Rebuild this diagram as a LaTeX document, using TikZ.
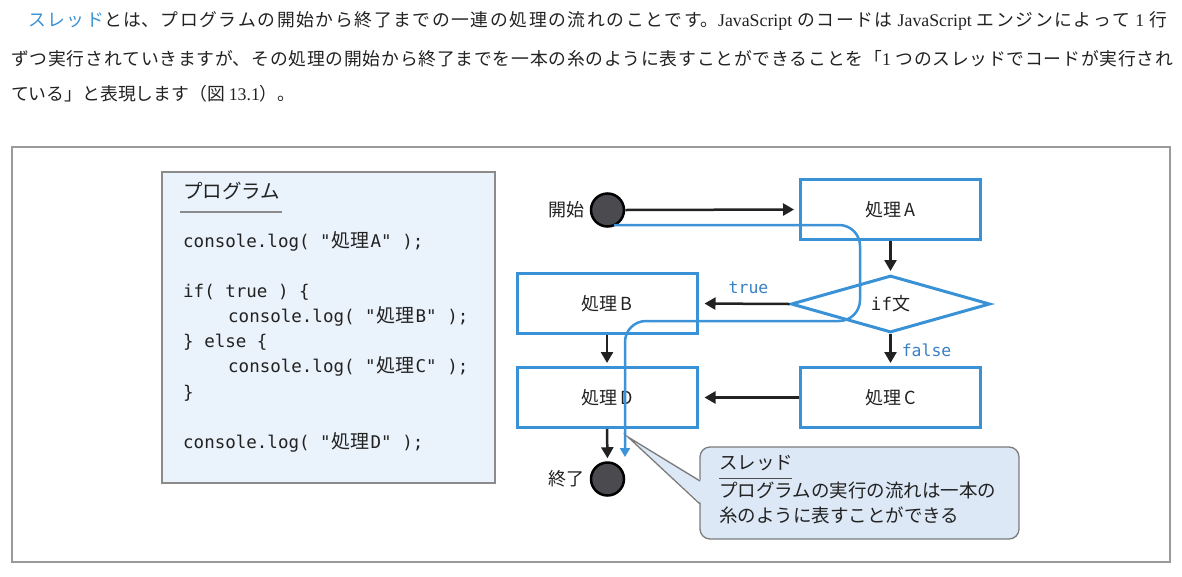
\documentclass[tikz,border=0pt]{standalone}
\usepackage{fontspec}
\setmainfont{Noto Sans CJK JP}
\newfontfamily\jp{Noto Sans CJK JP}
\newfontfamily\lat{Liberation Serif}
\newfontfamily\mono{DejaVu Sans Mono}
\usetikzlibrary{arrows.meta,shapes.geometric}
\XeTeXlinebreaklocale "ja"
\XeTeXlinebreakskip=0pt plus 3pt
\definecolor{boxblue}{HTML}{3A92D6}
\definecolor{thread}{HTML}{3C93D8}
\definecolor{lbl}{HTML}{3A80C4}
\definecolor{progfill}{HTML}{EAF2FB}
\definecolor{callfill}{HTML}{DCE8F6}
\definecolor{framegray}{HTML}{9A9A9A}
\definecolor{dot}{HTML}{4B4B4F}
\definecolor{txt}{HTML}{222222}
\newcommand\cj[1]{{\jp\fontsize{19}{20}\selectfont\makebox[40pt][c]{#1}}}
\newcommand\jline[2]{\parbox{#1}{\parfillskip=0pt\parindent=0pt\leftskip=0pt\rightskip=0pt #2\par}}
\tikzset{
  para/.style={anchor=mid west, inner sep=0pt, text=txt, font=\jp\fontsize{17.8}{20}\selectfont},
  code/.style={anchor=mid west, inner sep=0pt, text=txt, font=\mono\fontsize{17.5}{20}\selectfont},
  procbox/.style={draw=boxblue, line width=3pt, minimum width=180pt, minimum height=60pt, inner sep=0pt, fill=white, text=txt, font=\jp\fontsize{18}{20}\selectfont},
  dotnode/.style={circle, draw=black, line width=2.5pt, fill=dot, minimum size=33pt, inner sep=0pt},
  flow/.style={line width=2.5pt, draw=txt, -{Triangle[length=11pt,width=12pt]}},
  threadline/.style={line width=2.5pt, draw=thread, rounded corners=21pt, -{Triangle[length=9pt,width=10pt]}},
  lab/.style={text=txt, font=\jp\fontsize{18}{20}\selectfont, inner sep=0pt},
  tf/.style={text=lbl, font=\mono\fontsize{16.5}{18}\selectfont, inner sep=0pt},
}
\begin{document}
\begin{tikzpicture}[x=1pt,y=-1pt]
\path[use as bounding box, fill=white] (0,0) rectangle (1182,576);

% paragraph
\node[para] (p1) at (28,23) {\jline{1139pt}{\textcolor{boxblue}{スレッド}とは、プログラムの開始から終了までの一連の処理の流れのことです。{\lat JavaScript} のコードは {\lat JavaScript} エンジンによって {\lat 1} 行}};
\node[para] (p2) at (11,60) {\jline{1162pt}{ずつ実行されていきますが、その処理の開始から終了までを一本の糸のように表すことができることを「{\lat 1} つのスレッドでコードが実行され}};
\node[para] (p3) at (11,98) {ている」と表現します（図 {\lat 13.1}）。};

% frame
\draw[framegray, line width=1.5pt] (12,147) rectangle (1170,562);

% program box
\draw[fill=progfill, draw=framegray!90!black, line width=1.5pt] (162,172) rectangle (495,483);
\node[anchor=mid west, inner sep=0pt, text=txt, font=\jp\fontsize{19.5}{20}\selectfont] (ptitle) at (183,196) {プログラム};
\draw[framegray!90!black, line width=1.5pt] (180,212) -- (282,212);
\node[code] (c1) at (183,245) {console.log( "\cj{処理}A" );};
\node[code] (c2) at (183,295) {if( true ) \{};
\node[code] (c3) at (228,320) {console.log( "\cj{処理}B" );};
\node[code] (c4) at (183,345) {\} else \{};
\node[code] (c5) at (228,370) {console.log( "\cj{処理}C" );};
\node[code] (c6) at (183,396) {\}};
\node[code] (c7) at (183,446) {console.log( "\cj{処理}D" );};

% flowchart nodes
\node[dotnode] (start) at (607.5,210) {};
\node[lab, anchor=east] (startl) at (585,210) {開始};
\node[procbox] (A) at (890.5,209.5) {処理\,A};
\node[diamond, draw=boxblue, line width=3pt, minimum width=199pt, minimum height=57pt, shape aspect=3.5, inner sep=0pt, fill=white, text=txt] (if) at (890.5,304) {{\mono\fontsize{17.5}{20}\selectfont if}{\jp\fontsize{18}{20}\selectfont 文}};
\node[procbox] (B) at (607,303.5) {処理\,B};
\node[procbox] (C) at (890.5,397.5) {処理\,C};
\node[procbox] (D) at (607,397.5) {処理\,D};
\node[dotnode] (end) at (607.5,479) {};
\node[lab, anchor=east] (endl) at (585,479) {終了};

% arrows
\draw[flow, shorten >=5pt] (start.east) -- (A.west);
\draw[flow, shorten >=3pt] (A.south) -- (if.north);
\draw[flow, shorten >=6pt] (if.west) -- (B.east) node[tf, pos=0.45, above=9pt] (tl) {true};
\draw[flow, shorten >=3pt] (if.south) -- (C.north) node[tf, midway, anchor=west, xshift=10pt] (fl) {false};
\draw[flow, shorten >=3pt] (B.south) -- (D.north);
\draw[flow, shorten >=6pt] (C.west) -- (D.east);
\draw[flow, shorten >=3pt] (D.south) -- (end.north);

% thread
\coordinate (ts) at (614,225);
\coordinate (te) at (625,457);
\draw[threadline] (ts) -- (860,225) -- (860,321) -- (625,321) -- (te);

% callout
\coordinate (tip) at (628,437);
\draw[fill=callfill, draw=framegray!80!black, line width=1.3pt, rounded corners=10pt] (700,447) rectangle (1019,539);
\fill[callfill] (tip) -- (702,481) -- (702,504) -- cycle;
\draw[framegray!80!black, line width=1.3pt] (700,481) -- (tip) -- (700,504);
\node[anchor=mid west, inner sep=0pt, text=txt, font=\jp\fontsize{18.5}{20}\selectfont] (cl1) at (719,467) {スレッド};
\draw[txt!80, line width=1pt] (719,478) -- (792,478);
\node[anchor=mid west, inner sep=0pt, text=txt, font=\jp\fontsize{18.5}{20}\selectfont] (cl2) at (719,495) {プログラムの実行の流れは一本の};
\node[anchor=mid west, inner sep=0pt, text=txt, font=\jp\fontsize{18.5}{20}\selectfont] (cl3) at (719,520) {糸のように表すことができる};
\end{tikzpicture}
\end{document}
